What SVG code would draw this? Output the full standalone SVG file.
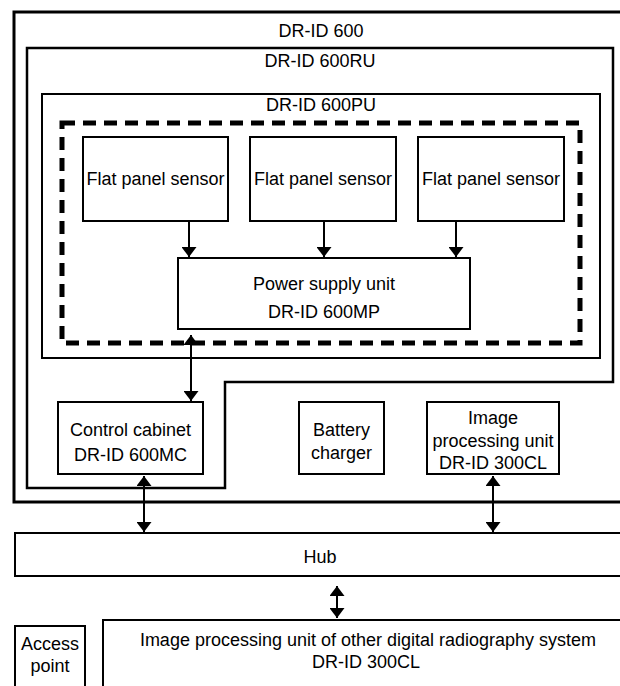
<svg xmlns="http://www.w3.org/2000/svg" width="620" height="686" viewBox="0 0 620 686">
<style>
.box{fill:none;stroke:#000;stroke-width:2}
.t{font-family:"Liberation Sans",Arial,sans-serif;font-size:18px;fill:#000;text-anchor:middle}
.c{stroke:#000;stroke-width:2;fill:none}
</style>
<defs>
<marker id="ah" viewBox="0 0 10 10" refX="10" refY="5" markerWidth="10" markerHeight="15" markerUnits="userSpaceOnUse" orient="auto-start-reverse" preserveAspectRatio="none">
<path d="M0,0 L10,5 L0,10 z" fill="#000"/>
</marker>
</defs>
<rect width="620" height="686" fill="#fff"/>
<g id="dr-id-600">
<rect x="14" y="12" width="640" height="490" fill="none" stroke="#000" stroke-width="3"/>
<text class="t" x="321" y="37">DR-ID 600</text>
</g>
<g id="dr-id-600ru">
<path d="M27,48 H613 V382 H225 V488 H27 Z" fill="none" stroke="#000" stroke-width="2.5"/>
<text class="t" x="320" y="67">DR-ID 600RU</text>
</g>
<g id="dr-id-600pu">
<rect x="42" y="94" width="558" height="264" class="box"/>
<text class="t" x="321" y="111">DR-ID 600PU</text>
</g>
<g id="dashed-group">
<rect x="62" y="123" width="518" height="220" fill="none" stroke="#000" stroke-width="5" stroke-dasharray="13 8"/>
</g>
<g id="sensor1">
<rect x="83" y="137" width="145" height="84" class="box"/>
<text class="t" x="155.5" y="185">Flat panel sensor</text>
</g>
<g id="sensor2">
<rect x="250" y="137" width="146" height="84" class="box"/>
<text class="t" x="323" y="185">Flat panel sensor</text>
</g>
<g id="sensor3">
<rect x="418" y="137" width="146" height="84" class="box"/>
<text class="t" x="491" y="185">Flat panel sensor</text>
</g>
<g id="psu">
<rect x="178" y="258" width="292" height="71" class="box"/>
<text class="t" x="324" y="290">Power supply unit</text>
<text class="t" x="324" y="318">DR-ID 600MP</text>
</g>
<g id="control-cabinet">
<rect x="58" y="402" width="145" height="72" class="box"/>
<text class="t" x="130.5" y="436">Control cabinet</text>
<text class="t" x="130.5" y="461">DR-ID 600MC</text>
</g>
<g id="battery-charger">
<rect x="299" y="402" width="85" height="72" class="box"/>
<text class="t" x="341.5" y="436">Battery</text>
<text class="t" x="341.5" y="459">charger</text>
</g>
<g id="image-processing-unit">
<rect x="427" y="402" width="132" height="72" class="box"/>
<text class="t" x="493" y="424">Image</text>
<text class="t" x="493" y="447">processing unit</text>
<text class="t" x="493" y="469">DR-ID 300CL</text>
</g>
<g id="hub">
<rect x="15" y="533" width="640" height="43" class="box"/>
<text class="t" x="320" y="563">Hub</text>
</g>
<g id="access-point">
<rect x="15" y="626" width="70" height="80" class="box"/>
<text class="t" x="50" y="650">Access</text>
<text class="t" x="50" y="672">point</text>
</g>
<g id="other-ipu">
<rect x="103" y="620" width="560" height="80" class="box"/>
<text class="t" x="368" y="646">Image processing unit of other digital radiography system</text>
<text class="t" x="366" y="668">DR-ID 300CL</text>
</g>
<g id="connectors">
<line class="c" x1="189" y1="221" x2="189" y2="257" marker-end="url(#ah)"/>
<line class="c" x1="324" y1="221" x2="324" y2="257" marker-end="url(#ah)"/>
<line class="c" x1="456" y1="221" x2="456" y2="257" marker-end="url(#ah)"/>
<line class="c" x1="191" y1="335" x2="191" y2="401" marker-start="url(#ah)" marker-end="url(#ah)"/>
<line class="c" x1="144" y1="476" x2="144" y2="532" marker-start="url(#ah)" marker-end="url(#ah)"/>
<line class="c" x1="493" y1="476" x2="493" y2="532" marker-start="url(#ah)" marker-end="url(#ah)"/>
<line class="c" x1="337" y1="586" x2="337" y2="618" marker-start="url(#ah)" marker-end="url(#ah)"/>
</g>
</svg>
